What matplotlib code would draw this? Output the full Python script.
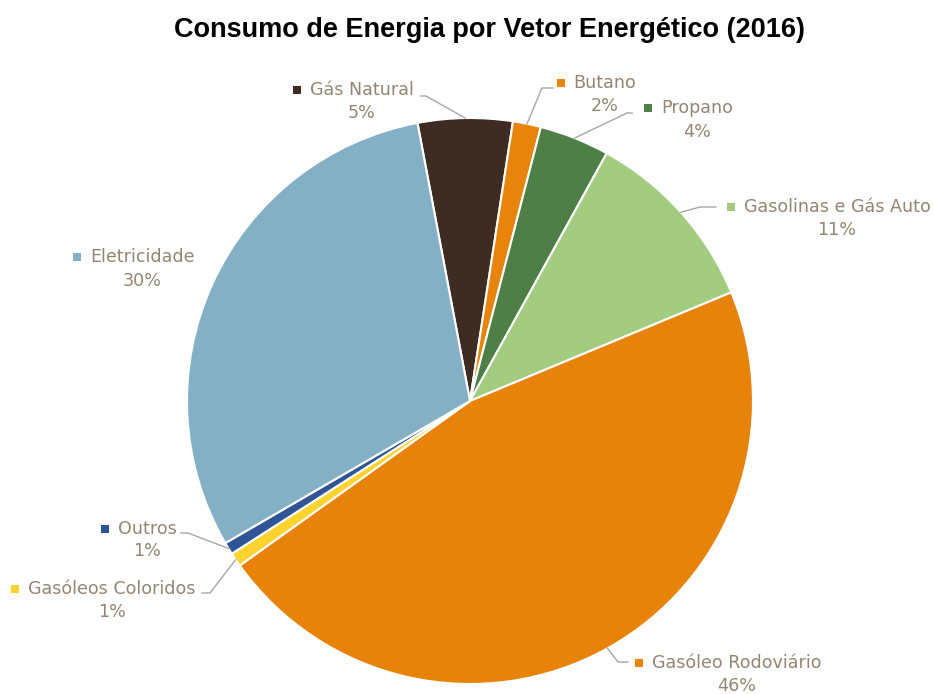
import matplotlib
matplotlib.use("Agg")
import matplotlib.pyplot as plt
import numpy as np

# ---- data ----
categories = ["Gás Natural", "Butano", "Propano", "Gasolinas e Gás Auto",
              "Gasóleo Rodoviário", "Gasóleos Coloridos", "Outros", "Eletricidade"]
values = [5.4, 1.6, 4.0, 10.7, 46.4, 0.8, 0.7, 30.4]
pct_labels = ["5%", "2%", "4%", "11%", "46%", "1%", "1%", "30%"]
colors = ["#3E2C23", "#E8830B", "#4E7F47", "#A3CC80", "#E8830A", "#FFD32E", "#2F5597", "#84B0C6"]

W, H = 933, 694
CX, CY, R = 470, 401, 283  # pie centre / radius in pixels
TEXT_COLOR = "#958574"
LINE_COLOR = "#A6A6A6"

fig = plt.figure(figsize=(W / 100, H / 100), dpi=100)
ax = fig.add_axes([(CX - R) / W, (H - CY - R) / H, 2 * R / W, 2 * R / H])
wedges, _ = ax.pie(values, colors=colors, startangle=100.7, counterclock=False,
                   wedgeprops=dict(edgecolor="white", linewidth=1.5))
ax.set_xlim(-1, 1)
ax.set_ylim(-1, 1)
ax.set_aspect("equal")
ax.axis("off")


def px(x, y):
    return ((x - CX) / R, (CY - y) / R)


# label layout: (text centre x, line1 y, line2 y) in pixels
label_pos = [(362, 90, 113), (605, 83, 106), (697, 108, 132), (837, 207, 230),
             (737, 663, 686), (112, 589, 612), (147, 529, 551), (142, 257, 281)]
# leader elbow + end points in pixels (None = no leader)
leaders = [((426, 96), (421, 96)), ((542, 88), (553, 88)), ((627, 113), (632, 113)),
           ((700, 207), (716, 207)), ((618, 662), (628, 662)), ((210, 593), (202, 593)),
           ((188, 533), (181, 533)), None]

FONT = "DejaVu Sans"
FS = 12.6
texts = []
for i, (name, pct) in enumerate(zip(categories, pct_labels)):
    cx, y1, y2 = label_pos[i]
    t = ax.text(*px(cx, y1), name, ha="center", va="center", fontsize=FS,
                color=TEXT_COLOR, family=FONT, clip_on=False)
    ax.text(*px(cx, y2), pct, ha="center", va="center", fontsize=FS,
            color=TEXT_COLOR, family=FONT, clip_on=False)
    texts.append(t)
    if leaders[i] is not None:
        w = wedges[i]
        mid = np.deg2rad((w.theta1 + w.theta2) / 2)
        ex, ey = np.cos(mid), np.sin(mid)
        (bx, by), (fx, fy) = leaders[i]
        bx, by = px(bx, by)
        fx, fy = px(fx, fy)
        ax.plot([ex, bx, fx], [ey, by, fy], color=LINE_COLOR, lw=1, clip_on=False)

fig.canvas.draw()
renderer = fig.canvas.get_renderer()
inv = ax.transData.inverted()
for i, t in enumerate(texts):
    bb = t.get_window_extent(renderer)
    sx = bb.x0 - 13
    sy = (bb.y0 + bb.y1) / 2
    dx, dy = inv.transform((sx, sy))
    ax.plot([dx], [dy], marker="s", markersize=6, color=colors[i], clip_on=False,
            markeredgewidth=0)

fig.text(489 / W, 1 - 30 / H, "Consumo de Energia por Vetor Energético (2016)",
         ha="center", va="center", fontsize=19.5, fontweight="bold",
         family="Liberation Sans", color="black")

fig.savefig("out.png", dpi=100, facecolor="white")
